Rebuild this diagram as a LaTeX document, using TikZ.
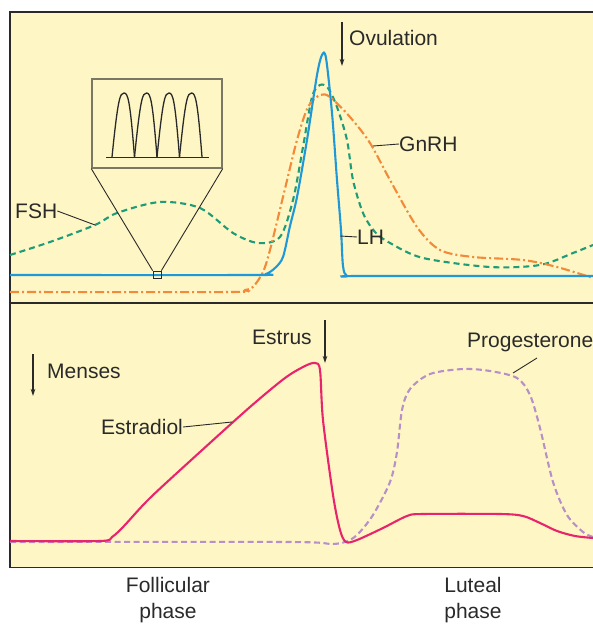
\documentclass[tikz,border=0pt]{standalone}
\usepackage{fontspec}
\setmainfont{Liberation Sans}
\usepackage{xcolor}
\usetikzlibrary{arrows.meta}
\definecolor{chartink}{HTML}{2A2A2A}
\definecolor{chartbg}{HTML}{FEF6C4}
\definecolor{lhblue}{HTML}{1E98D8}
\definecolor{fshgreen}{HTML}{1E9C78}
\definecolor{gnrhorange}{HTML}{F28A3A}
\definecolor{estrapink}{HTML}{E8246C}
\definecolor{progpurple}{HTML}{B890C8}
\definecolor{insetgray}{HTML}{7A7762}

\begin{document}
\begin{tikzpicture}[x=1pt,y=-1pt,
  label/.style={inner sep=0pt, text=chartink, font=\fontsize{21}{26}\selectfont},
  leader/.style={draw=chartink, line width=0.9pt},
  marker/.style={draw=chartink, line width=1.1pt, -{Stealth[length=7pt,width=4.5pt]}},
  frame/.style={draw=chartink, line width=1.8pt},
  curve/.style={line width=2.1pt, smooth, tension=0.5},
  inset/.style={draw=insetgray, line width=1.4pt, fill=chartbg, rectangle, minimum width=130pt, minimum height=89pt, inner sep=0pt},
  spot/.style={draw=chartink, line width=0.8pt, rectangle, minimum width=8pt, minimum height=7pt, inner sep=0pt}]
\useasboundingbox (0,0) rectangle (593,624);
\fill[chartbg] (10,12) rectangle (593,567.5);
\draw[frame] (593,12) -- (10,12) -- (10,567.5) -- (593,567.5);
\draw[frame] (10,303) -- (593,303);

% top panel
\draw[curve, fshgreen, dash pattern=on 6pt off 4pt] plot coordinates {(10,255) (50,242) (95,225) (117,213) (160,202) (200,208) (233,233) (258,243) (280,237) (293,200) (303,147) (312,97) (320,85) (328,88) (337,107) (347,140) (353,180) (363,213) (375,232) (390,243) (423,258) (490,267) (540,265) (573,253) (593,245)};
\draw[curve, gnrhorange, dash pattern=on 9pt off 3pt on 2pt off 3pt] plot coordinates {(10,292) (230,292) (245,290) (253,287) (263,272) (270,250) (283,197) (297,140) (308,107) (320,95) (330,97) (350,117) (370,143) (390,180) (417,227) (440,250) (473,257) (523,260) (557,267) (593,278)};
\draw[curve, lhblue] plot coordinates {(10,275) (255,275) (266,274) (275,268) (283,257) (290,226) (297,197) (307,140) (317,75) (322,55) (326,58) (332,113) (337,180) (341,230) (343,266) (347,276) (360,276) (593,276)};

\node[inset] (zoombox) at (157,123.5) {};
\draw[draw=chartink, line width=1pt] (106,157) -- (209,157);
\foreach \s in {112,134.5,157,179.5}
  \draw[draw=chartink, line width=1.3pt] (\s,157) .. controls (\s+6,98) and (\s+8,93) .. (\s+12,93) .. controls (\s+16,93) and (\s+18,100) .. (\s+22.5,157);
\node[spot] (zoomspot) at (157,274.5) {};
\draw[leader] (zoombox.south west) -- (zoomspot.north west);
\draw[leader] (zoombox.south east) -- (zoomspot.north east);

\node[label, anchor=west] (ovulation) at (349,38) {Ovulation};
\coordinate (ovtop) at (342,22);
\coordinate (ovtip) at (342,66);
\draw[marker] (ovtop) -- (ovtip);
\node[label, anchor=west] (gnrh) at (399,144) {GnRH};
\coordinate (gnrhend) at (373,146);
\draw[leader] (gnrh.west) -- (gnrhend);
\node[label, anchor=west] (lh) at (357,237) {LH};
\coordinate (lhend) at (340,236);
\draw[leader] (lh.west) -- (lhend);
\node[label, anchor=west] (fsh) at (15,211) {FSH};
\coordinate (fshend) at (95,225);
\draw[leader] (fsh.east) -- (fshend);

% bottom panel
\draw[curve, progpurple, dash pattern=on 6pt off 3.5pt] plot coordinates {(10,542) (290,542) (330,544) (345,542) (357,535) (373,515) (390,482) (397,452) (402,410) (410,389) (430,374) (463,369) (490,371) (517,378) (530,395) (540,428) (553,482) (567,515) (583,532) (593,537)};
\draw[curve, estrapink] plot coordinates {(10,541) (100,541) (112,537) (124,526) (150,498) (200,452) (250,407) (285,378) (305,366) (315,363) (320,370) (323,420) (333,495) (340,530) (346,542) (357,540) (383,528) (407,516) (423,514) (500,514) (523,516) (540,523) (557,531) (575,536) (593,538)};

\node[label, anchor=west] (estrus) at (252,337) {Estrus};
\coordinate (estop) at (325,320);
\coordinate (estip) at (325,363);
\draw[marker] (estop) -- (estip);
\node[label, anchor=west] (menses) at (47,371) {Menses};
\coordinate (mentop) at (33,354);
\coordinate (mentip) at (33,396);
\draw[marker] (mentop) -- (mentip);
\node[label, anchor=west] (estradiol) at (101,427) {Estradiol};
\coordinate (estraend) at (232,422);
\draw[leader] (estradiol.east) -- (estraend);
\node[label, anchor=west] (prog) at (467,342) {Progesterone};
\coordinate (progstart) at (537,358);
\coordinate (progend) at (513,373);
\draw[leader] (progstart) -- (progend);

\node[label, align=center] (follicular) at (168,600) {Follicular\\phase};
\node[label, align=center] (luteal) at (473,600) {Luteal\\phase};
\end{tikzpicture}
\end{document}
